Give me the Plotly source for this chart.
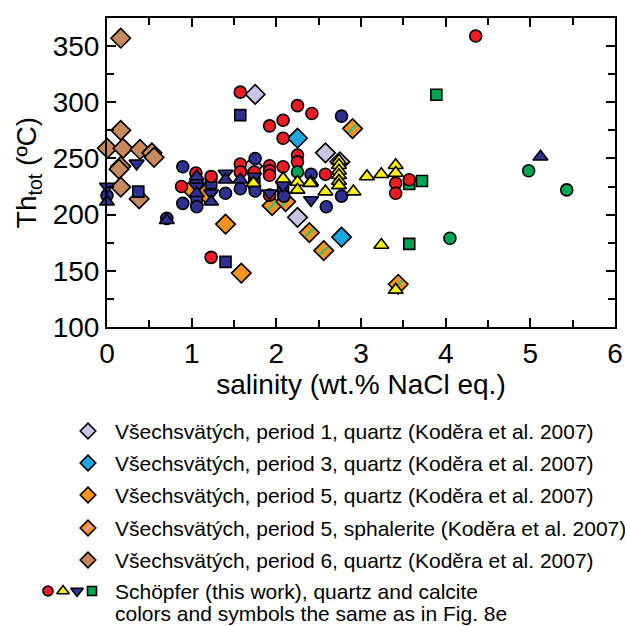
import plotly.graph_objects as go

# ---------------- data ----------------
# Všechsvätých (Koděra et al. 2007)
p1_x = [1.75, 2.58, 2.25, 1.72, 2.75]
p1_y = [307, 255, 197.6, 243, 247]
p3_x = [2.25, 2.77]
p3_y = [268, 180]
p5q_x = [1.40, 1.586, 1.00, 1.17]
p5q_y = [191.6, 148, 222.5, 219]
p5s_x = [2.90, 1.95, 2.11, 2.39, 2.56, 3.44]
p5s_y = [276.6, 208, 211.6, 184, 168, 138]
p6_x = [0.162, 0.162, 0.004, 0.189, 0.39, 0.53, 0.556, 0.162, 0.142, 0.162, 0.38]
p6_y = [357, 275, 259, 259, 258, 255, 251, 243, 240.5, 224.5, 214]

# Schöpfer (this work)
red_c_x = [1.574, 2.25, 2.42, 1.92, 2.08, 2.08, 4.355, 2.25, 2.25, 1.574, 2.08, 2.58,
           1.92, 1.92, 1.74, 1.574, 1.05, 1.23, 0.88, 1.23, 1.92, 3.41, 3.41, 3.57, 1.92]
red_c_y = [309, 297, 290, 279, 284, 268, 359, 253, 247, 245, 242.6, 236,
           243.5, 239, 238, 238, 237, 234, 225, 162, 217.4, 228, 219, 231, 235]
navy_c_x = [2.77, 0.895, 1.75, 2.41, 0.895, 1.40, 1.574, 1.75, 1.06, 2.59, 2.77, 2.09, 0.0, 0.706]
navy_c_y = [287.7, 242.6, 250, 236, 210, 219, 223, 221, 207, 207, 216.5, 216.5, 217, 196.7]
green_c_x = [4.98, 5.43, 4.05, 2.25]
green_c_y = [239, 222, 179, 238]
yel_t_x = [2.74, 2.74, 2.74, 2.74, 2.74, 2.74, 2.25, 2.25, 2.08, 2.41, 2.58, 2.91,
           3.07, 3.24, 3.41, 3.41, 3.24, 3.41, 1.73, 2.40]
yel_t_y = [248, 244, 239, 235, 230, 226, 229, 222, 232, 229, 220.5, 220.5,
           234, 236, 244, 237, 173, 133, 228, 228]
navy_t_x = [5.12, 0.706, 0.0, 1.06, 1.06, 1.574, 1.06, 1.23, 1.40]
navy_t_y = [251.5, 195, 211.5, 231, 219, 231, 234, 211.5, 231]
navy_d_x = [0.35, 0.0, 1.40, 1.06, 1.23, 1.92, 2.08, 2.41, 1.74]
navy_d_y = [245.6, 225, 236.6, 225, 219, 219, 226, 213, 234]
navy_s_x = [1.574, 0.37, 1.40, 1.06, 1.23, 2.08, 1.74]
navy_s_y = [288.6, 220.5, 158, 211.5, 228, 220.5, 228]
green_s_x = [3.89, 3.57, 3.72, 3.57]
green_s_y = [306.7, 227.3, 230, 174]

legend_labels = [
    "Všechsvätých, period 1, quartz (Koděra et al. 2007)",
    "Všechsvätých, period 3, quartz (Koděra et al. 2007)",
    "Všechsvätých, period 5, quartz (Koděra et al. 2007)",
    "Všechsvätých, period 5, sphalerite (Koděra et al. 2007)",
    "Všechsvätých, period 6, quartz (Koděra et al. 2007)",
    "Schöpfer (this work), quartz and calcite",
    "colors and symbols the same as in Fig. 8e",
]
x_ticks = [0, 1, 2, 3, 4, 5, 6]
y_ticks = [100, 150, 200, 250, 300, 350]

# ---------------- style ----------------
W, H = 625, 626
LAV, CYAN, ORANGE, TAN = "#C7C5E4", "#1DA5DF", "#F7941D", "#C68A5E"
RED, NAVY, GREEN, YEL = "#ED1C24", "#2E3192", "#00A651", "#FFF200"
FONT = "Arial, Liberation Sans, sans-serif"
LINE = dict(color="black", width=1.6)

fig = go.Figure()

def add(x, y, symbol, color, size, axis=("x", "y")):
    fig.add_trace(go.Scatter(x=x, y=y, mode="markers", xaxis=axis[0], yaxis=axis[1],
                             marker=dict(symbol=symbol, color=color, size=size, line=LINE),
                             showlegend=False, cliponaxis=False, hoverinfo="skip"))

def add_stripes(x, y, size, axis=("x", "y")):
    fig.add_trace(go.Scatter(x=x, y=y, mode="markers", xaxis=axis[0], yaxis=axis[1],
                             marker=dict(symbol="line-ne-open", size=size,
                                         line=dict(color="#3a2000", width=1.8)),
                             showlegend=False, cliponaxis=False, hoverinfo="skip"))

# main data (Koděra first, Schöpfer on top)
add(p6_x, p6_y, "diamond", TAN, 15)
add(p5s_x, p5s_y, "diamond", ORANGE, 15)
add_stripes(p5s_x, p5s_y, 8)
add(p5q_x, p5q_y, "diamond", ORANGE, 15)
add(p1_x, p1_y, "diamond", LAV, 15)
add(p3_x, p3_y, "diamond", CYAN, 15)
add(navy_s_x, navy_s_y, "square", NAVY, 11)
add(green_s_x, green_s_y, "square", GREEN, 11)
add(navy_c_x, navy_c_y, "circle", NAVY, 12)
add(red_c_x, red_c_y, "circle", RED, 12)
add(green_c_x, green_c_y, "circle", GREEN, 12)
add(navy_d_x, navy_d_y, "triangle-down", NAVY, 13)
add(navy_t_x, navy_t_y, "triangle-up", NAVY, 13)
add(yel_t_x, yel_t_y, "triangle-up", YEL, 13)

# ---------------- legend (on a pixel-unit overlay axis) ----------------
row_y = [431, 463, 495, 528, 560, 591, 613]
dia_colors = [LAV, CYAN, ORANGE, ORANGE, TAN]
for i, c in enumerate(dia_colors):
    add([88], [row_y[i]], "diamond", c, 12, axis=("x2", "y2"))
    if i == 3:
        add_stripes([88], [row_y[i]], 6, axis=("x2", "y2"))
sy = 591
add([48], [sy], "circle", RED, 10, axis=("x2", "y2"))
add([63], [sy], "triangle-up", YEL, 11, axis=("x2", "y2"))
add([77], [sy], "triangle-down", NAVY, 11, axis=("x2", "y2"))
add([92], [sy], "square", GREEN, 9, axis=("x2", "y2"))

for i, lab in enumerate(legend_labels):
    fig.add_annotation(x=113, y=row_y[i], xref="x2", yref="y2", text=lab, showarrow=False,
                       xanchor="left", yanchor="middle", align="left",
                       font=dict(family=FONT, size=21, color="black"))

# ---------------- axes ----------------
x0, x1 = 107, 615
yb, yt = 327, 18
axis_common = dict(showline=True, linecolor="black", linewidth=2, mirror="ticks",
                   ticks="inside", ticklen=9, tickwidth=1.5, tickcolor="black",
                   showgrid=False, zeroline=False,
                   tickfont=dict(family=FONT, size=28, color="black"))
fig.update_layout(
    width=W, height=H, margin=dict(l=0, r=0, t=0, b=0),
    paper_bgcolor="white", plot_bgcolor="white",
    xaxis=dict(domain=[x0 / W, x1 / W], range=[0, 6], tickvals=x_ticks,
               minor=dict(dtick=0.5, ticks="inside", ticklen=7, tickcolor="black"),
               title=dict(text="salinity (wt.% NaCl eq.)", font=dict(family=FONT, size=28, color="black"),
                          standoff=6),
               anchor="y", automargin=False, **axis_common),
    yaxis=dict(domain=[(H - yb) / H, (H - yt) / H], range=[100, 375], tickvals=y_ticks,
               minor=dict(dtick=25, ticks="inside", ticklen=7, tickcolor="black"),
               title=dict(text="Th<sub>tot</sub> (ºC)", font=dict(family=FONT, size=28, color="black"),
                          standoff=8),
               anchor="x", automargin=False, **axis_common),
    xaxis2=dict(domain=[0, 1], range=[0, W], visible=False, anchor="y2"),
    yaxis2=dict(domain=[0, 0.46], range=[H, H - 0.46 * H], visible=False, anchor="x2"),
)

fig.write_html("out.html")
